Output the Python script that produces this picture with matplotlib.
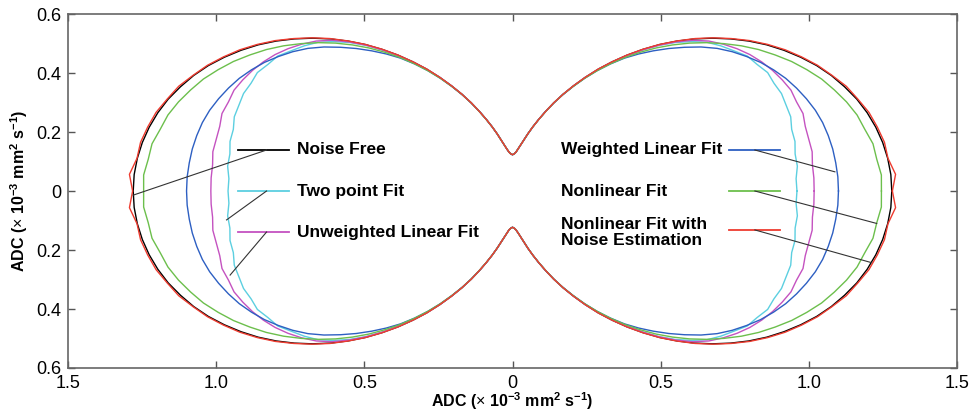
import numpy as np
import matplotlib.pyplot as plt

plt.rcParams['font.family'] = 'Liberation Sans'
plt.rcParams['mathtext.fontset'] = 'custom'
plt.rcParams['mathtext.rm'] = 'Liberation Sans'
plt.rcParams['mathtext.bf'] = 'Liberation Sans:bold'

# ---------------- data: ADC radius per direction (one quadrant, mirrored) ----
angle_deg = [0, 2.5, 5, 7.5, 10, 12.5, 15, 17.5, 20, 22.5, 25, 27.5, 30,
             32.5, 35, 37.5, 40, 42.5, 45, 47.5, 50, 52.5, 55, 57.5, 60,
             62.5, 65, 67.5, 70, 72.5, 75, 77.5, 80, 82.5, 85, 87.5, 90]

noise_free = [1.280, 1.278, 1.271, 1.260, 1.245, 1.226, 1.203, 1.175, 1.145,
              1.111, 1.073, 1.033, 0.991, 0.946, 0.899, 0.851, 0.802, 0.752,
              0.702, 0.651, 0.601, 0.552, 0.504, 0.457, 0.412, 0.370, 0.330,
              0.292, 0.258, 0.228, 0.201, 0.177, 0.158, 0.143, 0.132, 0.126,
              0.123]
two_point = [0.960, 0.958, 0.965, 0.962, 0.968, 0.965, 0.972, 0.968, 0.966,
             0.955, 0.950, 0.930, 0.915, 0.885, 0.858, 0.828, 0.788, 0.745,
             0.698, 0.648, 0.598, 0.550, 0.503, 0.456, 0.411, 0.370, 0.330,
             0.292, 0.258, 0.228, 0.201, 0.177, 0.158, 0.143, 0.132, 0.126,
             0.123]
unweighted = [1.018, 1.018, 1.016, 1.020, 1.015, 1.012, 1.015, 1.005, 1.000,
              0.985, 0.968, 0.948, 0.925, 0.898, 0.868, 0.835, 0.795, 0.748,
              0.699, 0.648, 0.598, 0.550, 0.502, 0.456, 0.411, 0.369, 0.330,
              0.292, 0.258, 0.228, 0.201, 0.177, 0.158, 0.143, 0.132, 0.126,
              0.123]
weighted = [1.100, 1.099, 1.095, 1.090, 1.082, 1.072, 1.058, 1.040, 1.020,
            0.998, 0.972, 0.944, 0.912, 0.879, 0.843, 0.802, 0.758, 0.715,
            0.672, 0.630, 0.588, 0.543, 0.498, 0.453, 0.409, 0.368, 0.329,
            0.292, 0.258, 0.228, 0.201, 0.177, 0.158, 0.143, 0.132, 0.126,
            0.123]
nonlinear = [1.245, 1.246, 1.234, 1.227, 1.207, 1.191, 1.167, 1.139, 1.110,
             1.075, 1.039, 0.999, 0.959, 0.916, 0.871, 0.826, 0.780, 0.733,
             0.686, 0.638, 0.591, 0.544, 0.498, 0.453, 0.409, 0.369, 0.329,
             0.291, 0.257, 0.228, 0.201, 0.177, 0.158, 0.143, 0.132, 0.126,
             0.123]
nonlinear_noise = [1.282, 1.294, 1.272, 1.266, 1.250, 1.232, 1.206, 1.181,
                   1.147, 1.114, 1.076, 1.037, 0.994, 0.949, 0.901, 0.853,
                   0.804, 0.753, 0.703, 0.652, 0.602, 0.552, 0.505, 0.457,
                   0.412, 0.370, 0.330, 0.292, 0.258, 0.228, 0.201, 0.177,
                   0.158, 0.143, 0.132, 0.126, 0.123]

series = [
    ("Noise Free", noise_free, 'black'),
    ("Two point Fit", two_point, '#5ccfe0'),
    ("Unweighted Linear Fit", unweighted, '#c452c0'),
    ("Weighted Linear Fit", weighted, '#2d5fc2'),
    ("Nonlinear Fit", nonlinear, '#6cbf4c'),
    ("Nonlinear Fit with\nNoise Estimation", nonlinear_noise, '#ee3b2f'),
]

xticks = [-1.5, -1.0, -0.5, 0, 0.5, 1.0, 1.5]
xticklabels = ['1.5', '1.0', '0.5', '0', '0.5', '1.0', '1.5']
yticks = [-0.6, -0.4, -0.2, 0, 0.2, 0.4, 0.6]
yticklabels = ['0.6', '0.4', '0.2', '0', '0.2', '0.4', '0.6']


def full_curve(a, r):
    # mirror the first quadrant into the other three
    a = np.asarray(a, dtype=float)
    r = np.asarray(r, dtype=float)
    ang = np.concatenate([a, 180 - a[::-1][1:], 180 + a[1:], 360 - a[::-1][1:]])
    rad = np.concatenate([r, r[::-1][1:], r[1:], r[::-1][1:]])
    t = np.deg2rad(ang)
    return rad * np.cos(t), rad * np.sin(t)


fig = plt.figure(figsize=(9.69, 4.12), dpi=100)
ax = fig.add_axes([0.0702, 0.1068, 0.9174, 0.8592])

for name, r, col in series:
    x, y = full_curve(angle_deg, r)
    ax.plot(x, y, color=col, lw=1.0)

# ---------------- labels with short legend lines and leader lines --------------
lead = '#333333'
left_y = [0.139, 0.0, -0.139]
left_target = [(-1.28, -0.014), (-0.965, -0.098), (-0.953, -0.285)]
for i in range(3):
    name, r, col = series[i]
    yy = left_y[i]
    ax.plot([-0.926, -0.753], [yy, yy], color=col, lw=1.3)
    ax.plot([-0.83, left_target[i][0]], [yy, left_target[i][1]], color=lead, lw=0.8)
    ax.text(-0.728, yy, name, fontsize=12.5, fontweight='bold', va='center', ha='left')

right_y = [0.139, 0.0, -0.132]
right_target = [(1.088, 0.065), (1.229, -0.11), (1.212, -0.243)]
text_y = [0.139, 0.0, -0.14]
for i in range(3):
    name, r, col = series[i + 3]
    yy = right_y[i]
    ax.plot([0.732, 0.903], [yy, yy], color=col, lw=1.3)
    ax.plot([0.818, right_target[i][0]], [yy, right_target[i][1]], color=lead, lw=0.8)
    ax.text(0.163, text_y[i], name, fontsize=12.5, fontweight='bold', va='center',
            ha='left', linespacing=1.1)

ax.set_xlim(-1.5, 1.5)
ax.set_ylim(-0.6, 0.6)
ax.set_xticks(xticks)
ax.set_xticklabels(xticklabels)
ax.set_yticks(yticks)
ax.set_yticklabels(yticklabels)
ax.tick_params(direction='in', length=5, width=1, colors='#555555', labelcolor='black',
               labelsize=13, top=True, right=True)
ax.tick_params(axis='x', pad=5)
ax.tick_params(axis='y', pad=5)
for s in ax.spines.values():
    s.set_color('#666666')
    s.set_linewidth(1.2)

unit = r'ADC ($\times$ 10$^{\mathbf{-3}}$ mm$^{\mathbf{2}}$ s$^{\mathbf{-1}}$)'
ax.set_xlabel(unit, fontsize=11.5, fontweight='bold', labelpad=-1)
ax.set_ylabel(unit, fontsize=11.5, fontweight='bold', labelpad=4)

fig.savefig('out.png', dpi=100)
